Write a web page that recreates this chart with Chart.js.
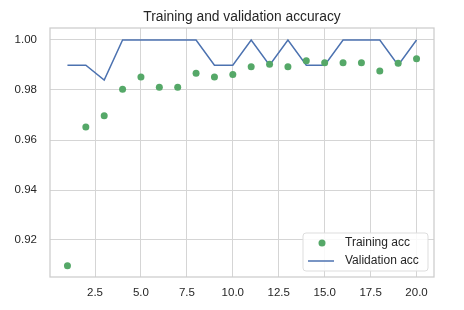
<!DOCTYPE html>
<html>
<head>
<meta charset="utf-8">
<script src="https://cdn.jsdelivr.net/npm/chart.js@4"></script>
<style>
  html, body { margin: 0; padding: 0; background: #fff; }
  #wrap { width: 464px; height: 310px; }
</style>
</head>
<body>
<div id="wrap"><canvas id="acc" width="464" height="310"></canvas></div>
<script>
  const EPOCHS = [1, 2, 3, 4, 5, 6, 7, 8, 9, 10, 11, 12, 13, 14, 15, 16, 17, 18, 19, 20];
  const TRAIN_ACC = [0.9097, 0.9652, 0.9697, 0.9803, 0.9852, 0.9811, 0.9811, 0.9867, 0.9852, 0.9862,
                     0.9893, 0.9903, 0.9893, 0.9917, 0.9909, 0.9909, 0.9909, 0.9876, 0.9907, 0.9925];
  const VAL_ACC = [0.9899, 0.9899, 0.9840, 1.0, 1.0, 1.0, 1.0, 1.0, 0.9899, 0.9899,
                   1.0, 0.9899, 1.0, 0.9899, 0.9899, 1.0, 1.0, 1.0, 0.9899, 1.0];
  const X_TICKS = [2.5, 5.0, 7.5, 10.0, 12.5, 15.0, 17.5, 20.0];
  const Y_TICKS = [0.92, 0.94, 0.96, 0.98, 1.00];

  const GREEN = '#55a868';
  const BLUE = '#4c72b0';
  const GRID = '#d5d5d5';
  const TEXT = '#262626';
  const FONT = '"Liberation Sans", Arial, sans-serif';

  const toXY = (ys) => ys.map((y, i) => ({ x: EPOCHS[i], y }));

  // frame + legend drawn inside the axes, matplotlib style
  const framePlugin = {
    id: 'frame',
    afterDraw(chart) {
      const { ctx, chartArea: a } = chart;
      ctx.save();
      ctx.strokeStyle = '#cccccc';
      ctx.lineWidth = 1.25;
      ctx.strokeRect(a.left, a.top, a.right - a.left, a.bottom - a.top);

      const w = 125, h = 38;
      const x0 = a.right - w - 6, y0 = a.bottom - h - 6;
      ctx.beginPath();
      ctx.roundRect(x0, y0, w, h, 3);
      ctx.fillStyle = 'rgba(255,255,255,0.85)';
      ctx.fill();
      ctx.strokeStyle = '#dddddd';
      ctx.lineWidth = 1;
      ctx.stroke();

      ctx.font = '12px ' + FONT;
      ctx.fillStyle = TEXT;
      ctx.textBaseline = 'middle';
      chart.data.datasets.forEach((ds, i) => {
        const yy = y0 + 10 + i * 18;
        if (ds.showLine) {
          ctx.strokeStyle = ds.borderColor;
          ctx.lineWidth = 1.5;
          ctx.beginPath();
          ctx.moveTo(x0 + 5, yy);
          ctx.lineTo(x0 + 31, yy);
          ctx.stroke();
        } else {
          ctx.fillStyle = ds.backgroundColor;
          ctx.beginPath();
          ctx.arc(x0 + 19, yy, 3.5, 0, Math.PI * 2);
          ctx.fill();
        }
        ctx.fillStyle = TEXT;
        ctx.fillText(ds.label, x0 + 42, yy);
      });
      ctx.restore();
    },
  };

  new Chart(document.getElementById('acc'), {
    type: 'scatter',
    data: {
      datasets: [
        { label: 'Training acc', data: toXY(TRAIN_ACC), showLine: false,
          backgroundColor: GREEN, borderColor: GREEN, pointRadius: 3.5, borderWidth: 0 },
        { label: 'Validation acc', data: toXY(VAL_ACC), showLine: true,
          borderColor: BLUE, backgroundColor: BLUE, borderWidth: 1.5, pointRadius: 0, tension: 0 },
      ],
    },
    options: {
      responsive: false,
      animation: false,
      layout: { padding: { left: 0, right: 30, top: 0, bottom: 0 } },
      plugins: {
        legend: { display: false },
        tooltip: { enabled: false },
        title: {
          display: true, text: 'Training and validation accuracy', fullSize: false,
          color: TEXT, font: { family: FONT, size: 13.8, weight: 'normal', lineHeight: 1.2 },
          padding: { top: 9, bottom: 2.44 },
        },
      },
      scales: {
        x: {
          type: 'linear', min: 0.05, max: 20.95,
          afterBuildTicks: (s) => { s.ticks = X_TICKS.map((v) => ({ value: v })); },
          afterFit: (s) => { s.height = 33; },
          grid: { color: GRID, lineWidth: 1, drawTicks: false },
          border: { display: false },
          ticks: { color: TEXT, padding: 9, font: { family: FONT, size: 11.5 }, callback: (v) => Number(v).toFixed(1) },
        },
        y: {
          min: 0.9052, max: 1.0048,
          afterBuildTicks: (s) => { s.ticks = Y_TICKS.map((v) => ({ value: v })); },
          afterFit: (s) => { s.width = 50; },
          grid: { color: GRID, lineWidth: 1, drawTicks: false },
          border: { display: false },
          ticks: { color: TEXT, padding: 13, font: { family: FONT, size: 11.5 }, callback: (v) => Number(v).toFixed(2) },
        },
      },
    },
    plugins: [framePlugin],
  });
</script>
</body>
</html>
